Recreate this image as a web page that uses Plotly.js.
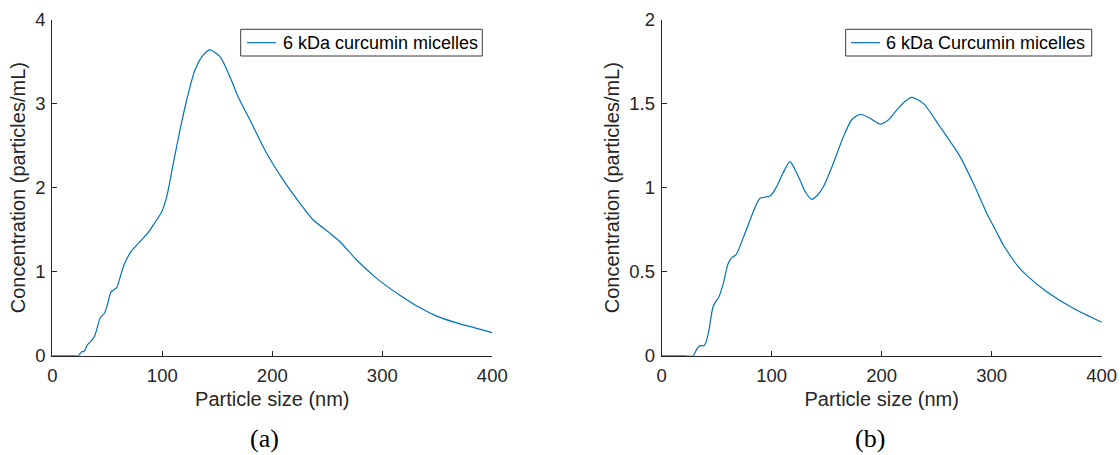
<!DOCTYPE html>
<html>
<head>
<meta charset="utf-8">
<script src="https://cdn.plot.ly/plotly-3.0.1.min.js"></script>
<style>html,body{margin:0;padding:0;background:#fff;}#chart{width:1120px;height:455px;}</style>
</head>
<body>
<div id="chart"></div>
<script>
// Panel (a): 6 kDa curcumin micelles
const sizeA = [0, 10, 20, 23.6, 26.7, 28.8, 31.8, 35, 38.2, 41, 43.4, 47.3, 50, 53.4, 58.5, 62, 65.2, 71.5, 77, 82.7, 88.8, 93, 99.5, 104, 110, 116.1, 122.2, 129.7, 137.3, 143.4, 152.5, 161.5, 169, 179.7, 194.9, 210, 225.2, 237.3, 252.5, 261.5, 276.7, 294.9, 316, 334.3, 350, 367.6, 385.8, 400];
const concA = [0, 0, 0, 0, 0.048, 0.05, 0.127, 0.17, 0.226, 0.34, 0.445, 0.505, 0.6, 0.76, 0.81, 0.95, 1.08, 1.24, 1.32, 1.40, 1.496, 1.58, 1.714, 1.89, 2.29, 2.687, 3.044, 3.40, 3.58, 3.64, 3.56, 3.32, 3.08, 2.806, 2.41, 2.09, 1.814, 1.615, 1.457, 1.357, 1.139, 0.921, 0.72, 0.57, 0.468, 0.39, 0.326, 0.274];
// Panel (b): 6 kDa Curcumin micelles
const sizeB = [0, 10, 20, 28.7, 31.5, 34.8, 38.7, 42.4, 46.9, 52.1, 56, 60.5, 64, 67.5, 75.7, 83.3, 89.4, 98.5, 104.5, 110.5, 116.6, 121, 125.7, 130.5, 136.4, 141.5, 147, 156, 165, 172.6, 180.3, 189.4, 198.5, 206, 213.6, 220.5, 227.3, 237.8, 253, 271.2, 283.3, 295.5, 304.5, 310.5, 316.6, 323.5, 331.8, 350, 374.2, 400];
const concB = [0, 0, 0, 0, 0.035, 0.06, 0.06, 0.133, 0.296, 0.351, 0.43, 0.55, 0.585, 0.6, 0.729, 0.857, 0.937, 0.95, 1.006, 1.09, 1.155, 1.11, 1.046, 0.976, 0.931, 0.955, 1.006, 1.145, 1.30, 1.403, 1.437, 1.413, 1.379, 1.403, 1.462, 1.51, 1.538, 1.502, 1.363, 1.185, 1.026, 0.848, 0.735, 0.66, 0.598, 0.535, 0.478, 0.381, 0.282, 0.199];

const nameA = '6 kDa curcumin micelles';
const nameB = '6 kDa Curcumin micelles';
const xTitle = 'Particle size (nm)';
const yTitle = 'Concentration (particles/mL)';
const captions = ['(a)', '(b)'];

const W = 1120, H = 455;
const lineColor = '#0072BD';
const axColor = '#262626';
const fam = 'Liberation Sans, Arial, Helvetica, sans-serif';
const tickFont = {family: fam, size: 18.5, color: axColor};
const titleFont = {family: fam, size: 20, color: axColor};
const legFont = {family: fam, size: 18, color: '#000000'};
const capFont = {family: 'Liberation Serif, Times New Roman, serif', size: 26, color: '#000000'};

const traces = [
  {x: sizeA, y: concA, type: 'scatter', mode: 'lines', name: nameA, xaxis: 'x', yaxis: 'y',
   line: {color: lineColor, width: 1.2, shape: 'spline', smoothing: 0.7}},
  {x: sizeB, y: concB, type: 'scatter', mode: 'lines', name: nameB, xaxis: 'x2', yaxis: 'y2',
   line: {color: lineColor, width: 1.2, shape: 'spline', smoothing: 0.7}}
];

const yDom = [1 - 355.7 / H, 1 - 19.7 / H];
function xax(dom, anchor) {
  return {domain: dom, anchor: anchor, range: [0, 400], dtick: 100, tick0: 0,
    showline: true, linecolor: axColor, linewidth: 1, mirror: false,
    ticks: 'inside', ticklen: 5, tickcolor: axColor, showgrid: false, zeroline: false,
    ticklabelstandoff: 3,
    tickfont: tickFont, title: {text: xTitle, font: titleFont, standoff: 7}};
}
function yax(dom, anchor, rng, dt) {
  return {domain: dom, anchor: anchor, range: rng, dtick: dt, tick0: 0,
    showline: true, linecolor: axColor, linewidth: 1, mirror: false,
    ticks: 'inside', ticklen: 5, tickcolor: axColor, showgrid: false, zeroline: false,
    ticklabelstandoff: 2,
    tickfont: tickFont, title: {text: yTitle, font: titleFont, standoff: 4}};
}

// legend boxes (pixel positions converted to paper fractions)
const px = v => v / W, py = v => 1 - v / H;
const legends = [
  {name: nameA, box: [240.7, 482.3], line: [247, 276], text: 280.5},
  {name: nameB, box: [845.7, 1091.7], line: [851, 880], text: 884}
];
const legTop = 29.3, legBot = 56, legMid = 42.7;
const shapes = [], annotations = [];
legends.forEach(l => {
  shapes.push({type: 'rect', xref: 'paper', yref: 'paper', x0: px(l.box[0]), x1: px(l.box[1]), y0: py(legBot), y1: py(legTop),
    line: {color: '#3a3a3a', width: 1}, fillcolor: '#ffffff', layer: 'above'});
  shapes.push({type: 'line', xref: 'paper', yref: 'paper', x0: px(l.line[0]), x1: px(l.line[1]), y0: py(legMid), y1: py(legMid),
    line: {color: lineColor, width: 1.2}, layer: 'above'});
  annotations.push({text: l.name, xref: 'paper', yref: 'paper', x: px(l.text), y: py(legMid), showarrow: false,
    xanchor: 'left', yanchor: 'middle', font: legFont});
});
annotations.push(
  {text: captions[0], xref: 'paper', yref: 'paper', x: px(264.5), y: py(438.5), showarrow: false,
   xanchor: 'center', yanchor: 'middle', font: capFont},
  {text: captions[1], xref: 'paper', yref: 'paper', x: px(870), y: py(438.5), showarrow: false,
   xanchor: 'center', yanchor: 'middle', font: capFont}
);

const layout = {
  width: W, height: H,
  margin: {l: 0, r: 0, t: 0, b: 0},
  paper_bgcolor: '#ffffff', plot_bgcolor: '#ffffff',
  showlegend: false,
  font: tickFont,
  xaxis: xax([52.3 / W, 492.3 / W], 'y'),
  yaxis: yax(yDom, 'x', [0, 4], 1),
  xaxis2: xax([661.7 / W, 1101.7 / W], 'y2'),
  yaxis2: yax(yDom, 'x2', [0, 2], 0.5),
  shapes: shapes,
  annotations: annotations
};

Plotly.newPlot('chart', traces, layout, {displayModeBar: false, staticPlot: true});
</script>
</body>
</html>
